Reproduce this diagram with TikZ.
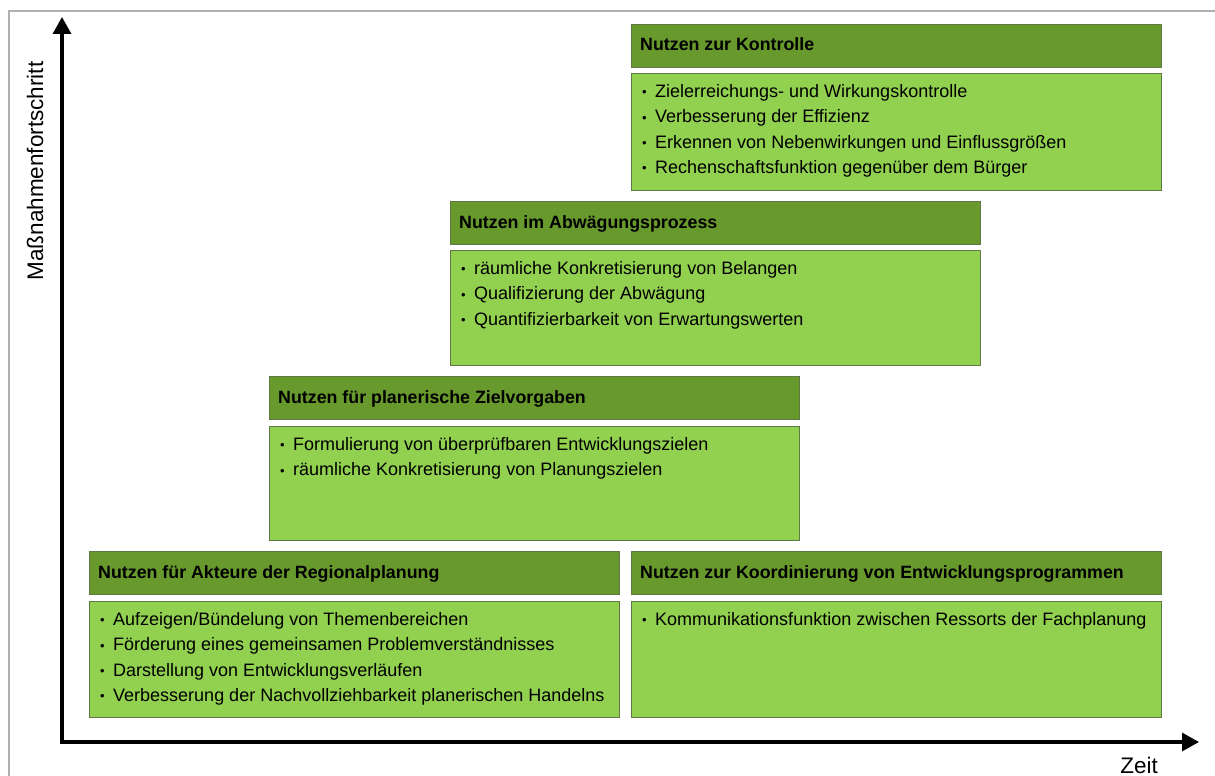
\documentclass[tikz,border=0pt]{standalone}
\usepackage{fontspec}
\setmainfont{Liberation Sans}
\usetikzlibrary{arrows.meta}
\definecolor{hdrgreen}{RGB}{104,153,44}
\definecolor{bodygreen}{RGB}{146,208,80}
\definecolor{edgegreen}{RGB}{95,120,70}
\definecolor{framegray}{RGB}{175,175,175}
\newcommand\blt{\rule{0pt}{14pt}\makebox[13pt][l]{\fontsize{13}{13}\selectfont\raisebox{0.5pt}{•}}}
\begin{document}
\begin{tikzpicture}[x=1pt,y=-1pt,
  hdr/.style={draw=edgegreen, fill=hdrgreen, line width=0.8pt, anchor=north west, minimum width=530pt, minimum height=43pt, inner sep=0pt},
  bodybox/.style={draw=edgegreen, fill=bodygreen, line width=0.8pt, anchor=north west, minimum width=530pt, inner sep=0pt},
  hdrtext/.style={anchor=base west, font=\fontsize{17.8}{20}\selectfont\bfseries, inner sep=0pt},
  bodytext/.style={anchor=north west, align=left, font=\fontsize{18}{25.4}\selectfont, inner sep=0pt},
  axis/.style={line width=3.2pt, line join=miter, {Triangle[length=17pt,width=18pt]}-{Triangle[length=17pt,width=18pt]}},
  axlabel/.style={font=\fontsize{22.5}{22.5}\selectfont, inner sep=0pt},
]
\useasboundingbox (0,0) rectangle (1215,776);
\fill[white] (0,0) rectangle (1215,776);
\draw[framegray, line width=2pt] (9,776) -- (9,11) -- (1215,11);

% Kontrolle
\node[hdr] (h1) at (631,24) {};
\node[hdrtext] (t1) at (640,51) {Nutzen zur Kontrolle};
\node[bodybox, minimum height=117pt] (b1) at (631,73) {};
\node[bodytext] (l1) at (642,83) {\blt Zielerreichungs- und Wirkungskontrolle\\
\blt Verbesserung der Effizienz\\
\blt Erkennen von Nebenwirkungen und Einflussgrößen\\
\blt Rechenschaftsfunktion gegenüber dem Bürger};

% Abwaegung
\node[hdr] (h2) at (450,201) {};
\node[hdrtext] (t2) at (459,228) {Nutzen im Abwägungsprozess};
\node[bodybox, minimum height=115pt] (b2) at (450,250) {};
\node[bodytext] (l2) at (461,260) {\blt räumliche Konkretisierung von Belangen\\
\blt Qualifizierung der Abwägung\\
\blt Quantifizierbarkeit von Erwartungswerten};

% Zielvorgaben
\node[hdr] (h3) at (269,376) {};
\node[hdrtext] (t3) at (278,403) {Nutzen für planerische Zielvorgaben};
\node[bodybox, minimum height=114pt] (b3) at (269,426) {};
\node[bodytext] (l3) at (280,436) {\blt Formulierung von überprüfbaren Entwicklungszielen\\
\blt räumliche Konkretisierung von Planungszielen};

% Akteure
\node[hdr] (h4) at (89,551) {};
\node[hdrtext] (t4) at (98,578) {Nutzen für Akteure der Regionalplanung};
\node[bodybox, minimum height=116pt] (b4) at (89,601) {};
\node[bodytext] (l4) at (100,611) {\blt Aufzeigen/Bündelung von Themenbereichen\\
\blt Förderung eines gemeinsamen Problemverständnisses\\
\blt Darstellung von Entwicklungsverläufen\\
\blt Verbesserung der Nachvollziehbarkeit planerischen Handelns};

% Koordinierung
\node[hdr] (h5) at (631,551) {};
\node[hdrtext] (t5) at (640,578) {Nutzen zur Koordinierung von Entwicklungsprogrammen};
\node[bodybox, minimum height=116pt] (b5) at (631,601) {};
\node[bodytext] (l5) at (642,611) {\blt Kommunikationsfunktion zwischen Ressorts der Fachplanung};

% axes
\coordinate (ytip) at (62,17);
\coordinate (O) at (62,742);
\coordinate (xtip) at (1199,742);
\draw[axis] (ytip) -- (O) -- (xtip);
\node[axlabel, rotate=90, anchor=base] (ylab) at (43,171) {Maßnahmenfortschritt};
\node[axlabel, anchor=base] (xlab) at (1139,773) {Zeit};
\end{tikzpicture}
\end{document}
